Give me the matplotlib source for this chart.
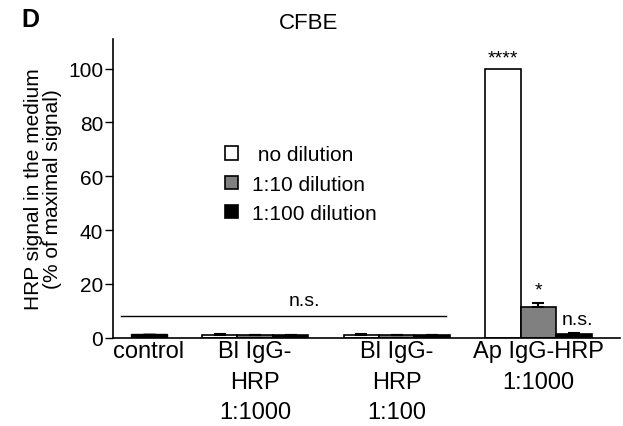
import matplotlib.pyplot as plt
import numpy as np

plt.rcParams['font.family'] = ['Liberation Sans', 'DejaVu Sans']

groups = ['control', 'Bl IgG-\nHRP\n1:1000', 'Bl IgG-\nHRP\n1:100', 'Ap IgG-HRP\n1:1000']
series = ['no dilution', '1:10 dilution', '1:100 dilution']
colors = ['white', '#808080', 'black']

# bar positions (one bar for control, three per other group)
pos_control = [0]
val_control = [1.2]
err_control = [0.3]

pos_groups = [[2, 3, 4], [6, 7, 8], [10, 11, 12]]
val_groups = [[1.0, 0.8, 0.8], [1.0, 0.8, 0.8], [100.0, 11.2, 1.4]]
err_groups = [[0.3, 0.1, 0.1], [0.3, 0.1, 0.1], [0.0, 1.6, 0.4]]

tick_pos = [0, 3, 7, 11]

fig = plt.figure(figsize=(6.23, 4.27), dpi=100)
ax = fig.add_axes([0.181, 0.207, 0.814, 0.699])

ax.bar(pos_control, val_control, width=1.0, color='black', edgecolor='black', lw=1,
       yerr=[[0], err_control], capsize=4, error_kw=dict(lw=1.2))
for p, v, e in zip(pos_groups, val_groups, err_groups):
    for i in range(3):
        ax.bar(p[i], v[i], width=1.0, color=colors[i], edgecolor='black', lw=1.2,
               yerr=[[0], [e[i]]] if e[i] > 0 else None, capsize=4,
               error_kw=dict(lw=1.5, capthick=1.5))

# legend
for i in range(3):
    ax.bar([np.nan], [np.nan], color=colors[i], edgecolor='black', lw=1.2,
           label=(' ' + series[i]) if i == 0 else series[i])
ax.legend(loc='upper left', bbox_to_anchor=(0.205, 0.672), frameon=False, fontsize=15,
          handlelength=0.6, handleheight=0.6, handletextpad=0.7, labelspacing=0.5,
          borderaxespad=0)

# significance
ax.plot([-0.8, 8.4], [8.1, 8.1], color='black', lw=1)
ax.text(4.4, 10.5, 'n.s.', ha='center', va='bottom', fontsize=14)
ax.text(10, 100.8, '****', ha='center', va='bottom', fontsize=14)
ax.text(11, 14.5, '*', ha='center', va='bottom', fontsize=14)
ax.text(12.1, 3.5, 'n.s.', ha='center', va='bottom', fontsize=14)

ax.set_xlim(-1.02, 13.3)
ax.set_ylim(0, 111)
ax.set_yticks([0, 20, 40, 60, 80, 100])
ax.set_xticks(tick_pos)
ax.set_xticklabels(groups, linespacing=1.5, va='top')
ax.tick_params(axis='x', length=0, labelsize=17, pad=2)
ax.tick_params(axis='y', length=6, width=1, labelsize=15, pad=1)
ax.spines['top'].set_visible(False)
ax.spines['right'].set_visible(False)
ax.spines['left'].set_linewidth(1.2)
ax.spines['bottom'].set_linewidth(1.2)
ax.set_ylabel('HRP signal in the medium\n(% of maximal signal)', fontsize=15, labelpad=4,
              linespacing=1.0)

fig.text(0.496, 0.944, 'CFBE', ha='center', va='center', fontsize=16)
fig.text(0.035, 0.952, 'D', ha='left', va='center', fontsize=18, fontweight='bold')

fig.savefig('out.png', dpi=100)
